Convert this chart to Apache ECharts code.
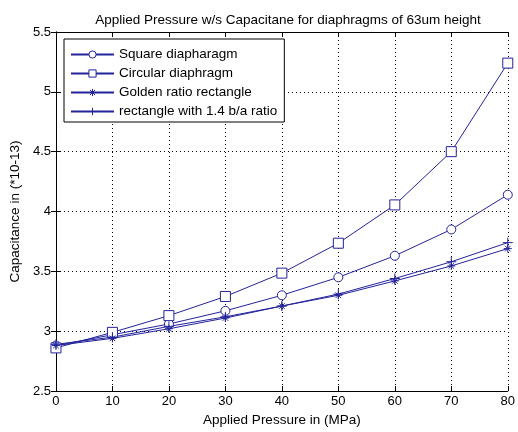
<!DOCTYPE html>
<html><head><meta charset="utf-8">
<script src="https://cdn.jsdelivr.net/npm/echarts@6/dist/echarts.min.js"></script>
<style>html,body{margin:0;padding:0;background:#fff}#c{width:518px;height:432px}</style>
</head><body><div id="c"></div>
<script>
const pressure = [0, 10, 20, 30, 40, 50, 60, 70, 80];
const squareDia = [2.88, 2.97, 3.06, 3.17, 3.30, 3.45, 3.63, 3.85, 4.14];
const circularDia = [2.86, 2.99, 3.13, 3.29, 3.485, 3.735, 4.055, 4.50, 5.24];
const goldenRect = [2.88, 2.94, 3.02, 3.11, 3.21, 3.30, 3.42, 3.545, 3.69];
const rect14 = [2.89, 2.95, 3.04, 3.12, 3.21, 3.31, 3.44, 3.58, 3.74];
const names = ['Square diapharagm', 'Circular diaphragm', 'Golden ratio rectangle', 'rectangle with 1.4 b/a ratio'];
const xTicks = [0, 10, 20, 30, 40, 50, 60, 70, 80];
const yTicks = [2.5, 3, 3.5, 4, 4.5, 5, 5.5];

const C = '#23239b';
const FONT = 'Liberation Sans, Arial, sans-serif';
const star = 'path://M0,5L10,5M5,0L5,10M1.5,1.5L8.5,8.5M8.5,1.5L1.5,8.5';
const plus = 'path://M0,5L10,5M5,0L5,10';

function mk(name, vals, symbol, size) {
  return {
    name, type: 'line', data: pressure.map((p, i) => [p, vals[i]]),
    symbol, symbolSize: size, showAllSymbol: true,
    lineStyle: { color: C, width: 1 },
    itemStyle: { color: symbol.startsWith('path') ? 'none' : '#fff', borderColor: C, borderWidth: 1 },
    emphasis: { disabled: true }, animation: false, z: 3
  };
}

const axisCommon = {
  type: 'value',
  axisLine: { show: true, lineStyle: { color: '#000', width: 1 } },
  axisTick: { show: true, inside: true, length: 5, lineStyle: { color: '#000' } },
};

const chart = echarts.init(document.getElementById('c'));
chart.setOption({
  animation: false,
  backgroundColor: '#fff',
  title: { text: 'Applied Pressure w/s Capacitane for diaphragms of 63um height', left: 283, textAlign: 'center', top: 8,
    textStyle: { fontFamily: FONT, fontSize: 13.5, fontWeight: 'normal', color: '#000' } },
  grid: { left: 55, right: 7, top: 32, bottom: 39 },
  legend: {
    orient: 'vertical', left: 64, top: 39,
    data: names, itemWidth: 43, itemHeight: 9, itemGap: 4,
    padding: [8, 7, 3, 6],
    borderColor: '#000', borderWidth: 1, backgroundColor: '#fff',
    textStyle: { fontFamily: FONT, fontSize: 13.5, color: '#000', lineHeight: 15 },
    itemStyle: { borderWidth: 1 }
  },
  xAxis: [
    Object.assign({}, axisCommon, { min: 0, max: 80, interval: 10, position: 'bottom',
      name: 'Applied Pressure in (MPa)', nameLocation: 'middle', nameGap: 22,
      nameTextStyle: { fontFamily: FONT, fontSize: 13.5, color: '#000' },
      axisLabel: { fontFamily: FONT, fontSize: 13, color: '#000', margin: 4,
        customValues: xTicks },
      splitLine: { show: true, lineStyle: { color: '#000', type: [1, 3], width: 1 } } }),
    Object.assign({}, axisCommon, { min: 0, max: 80, interval: 10, position: 'top',
      axisLabel: { show: false }, splitLine: { show: false } })
  ],
  yAxis: [
    Object.assign({}, axisCommon, { min: 2.5, max: 5.5, interval: 0.5, position: 'left',
      name: 'Capacitance in (*10-13)', nameLocation: 'middle', nameGap: 32,
      nameTextStyle: { fontFamily: FONT, fontSize: 13.5, color: '#000' },
      axisLabel: { fontFamily: FONT, fontSize: 13, color: '#000', margin: 5,
        customValues: yTicks },
      splitLine: { show: true, lineStyle: { color: '#000', type: [1, 3], width: 1 } } }),
    Object.assign({}, axisCommon, { min: 2.5, max: 5.5, interval: 0.5, position: 'right',
      axisLabel: { show: false }, splitLine: { show: false } })
  ],
  series: [
    mk(names[0], squareDia, 'circle', 9),
    mk(names[1], circularDia, 'rect', 10),
    mk(names[2], goldenRect, star, 8),
    mk(names[3], rect14, plus, 10)
  ]
});
</script></body></html>
